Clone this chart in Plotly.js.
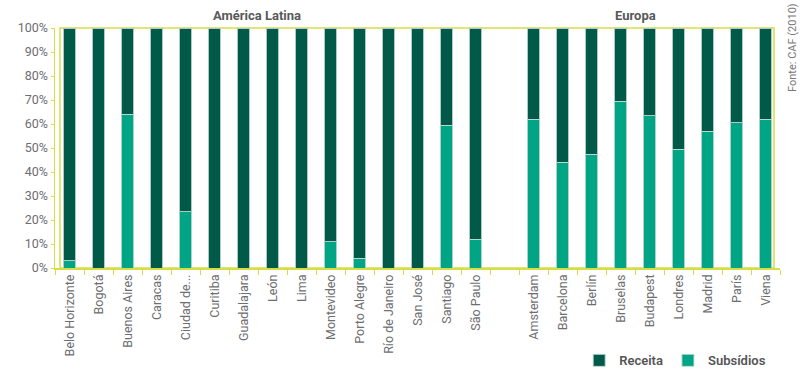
<!DOCTYPE html>
<html>
<head>
<meta charset="utf-8">
<script src="https://cdn.plot.ly/plotly-3.0.1.min.js"></script>
<style>html,body{margin:0;padding:0;background:#fff;}#chart{width:805px;height:371px;}</style>
</head>
<body>
<div id="chart"></div>
<script>
var cities = ["Belo Horizonte","Bogotá","Buenos Aires","Caracas","Ciudad de...","Curitiba","Guadalajara","León","Lima","Montevideo","Porto Alegre","Río de Janeiro","San José","Santiago","São Paulo"," ","Amsterdam","Barcelona","Berlín","Bruselas","Budapest","Londres","Madrid","París","Viena"];
var subsidios = [3,0,64,0,23.5,0,0,0,0,11,4,0,0,59.5,12,null,62,44,47.5,69.5,63.5,49.5,57,60.5,62];
var receita = subsidios.map(function(v){ return v === null ? null : 100 - v; });
var groupLabels = ["América Latina","Europa"];
var sourceText = "Fonte: CAF (2010)";

var font = "'Liberation Sans Narrow', 'Roboto', 'Liberation Sans', sans-serif";
var axisColor = "#d6dd45";
var edge = {color: "rgba(190,215,208,0.9)", width: 1};

var traces = [
  {type: "bar", name: "Subsídios", x: cities, y: subsidios, width: 0.42,
   marker: {color: "#00a585", line: edge}},
  {type: "bar", name: "Receita", x: cities, y: receita, width: 0.42,
   marker: {color: "#005a47", line: edge}}
];

var layout = {
  width: 805, height: 371,
  margin: {l: 55, r: 25, t: 28, b: 103, autoexpand: false},
  barmode: "stack",
  showlegend: true,
  legend: {orientation: "h", x: 0.723, xanchor: "left", y: -0.385, yanchor: "middle",
           traceorder: "reversed", itemwidth: 30,
           font: {family: font, size: 13, color: "#555", weight: 600}},
  font: {family: font, color: "#6d6e70"},
  xaxis: {type: "category", tickson: "boundaries", ticks: "outside", ticklen: 5, automargin: false,
          tickcolor: axisColor, showline: true, linecolor: axisColor, linewidth: 1.5,
          tickangle: -90, tickfont: {family: font, size: 12.5, color: "#6d6e70"},
          range: [-0.5, 24.5], showgrid: false, zeroline: false},
  yaxis: {range: [0, 100], dtick: 10, ticksuffix: "%", ticks: "outside", ticklen: 3, automargin: false,
          tickcolor: axisColor, showline: true, linecolor: axisColor, linewidth: 1.5,
          showgrid: false, zeroline: false, tickfont: {family: font, size: 12.5, color: "#6d6e70"}},
  shapes: [
    {type: "rect", xref: "paper", yref: "paper", x0: 5/725, x1: 719/725, y0: 0, y1: 1,
     line: {color: axisColor, width: 1.5}, fillcolor: "rgba(0,0,0,0)", layer: "below"}
  ],
  annotations: [
    {text: "<b>" + groupLabels[0] + "</b>", xref: "paper", yref: "paper", x: 0.279, y: 1.05,
     xanchor: "center", yanchor: "middle",
     showarrow: false, font: {family: font, size: 13, color: "#58595b"}},
    {text: "<b>" + groupLabels[1] + "</b>", xref: "paper", yref: "paper", x: 0.801, y: 1.05,
     xanchor: "center", yanchor: "middle",
     showarrow: false, font: {family: font, size: 13, color: "#58595b"}},
    {text: sourceText, xref: "paper", yref: "paper", x: 1.018, y: 0.917, textangle: -90,
     xanchor: "center", yanchor: "middle",
     showarrow: false, font: {family: font, size: 11, color: "#777"}}
  ],
  paper_bgcolor: "#fff", plot_bgcolor: "#fff"
};

Plotly.newPlot("chart", traces, layout, {displayModeBar: false, staticPlot: true});
</script>
</body>
</html>
